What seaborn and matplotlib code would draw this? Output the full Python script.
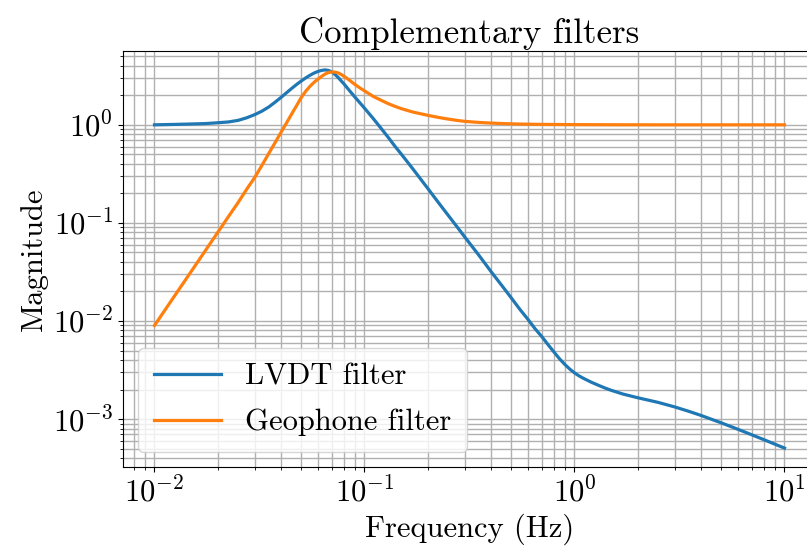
import numpy as np
import pandas as pd
import matplotlib
matplotlib.use("Agg")
import matplotlib.pyplot as plt
import seaborn as sns

# Frequencies (Hz) the curves were read at
freq = [0.01, 0.0125, 0.015, 0.0175, 0.02, 0.0225, 0.025, 0.0275, 0.03, 0.0325,
        0.035, 0.0375, 0.04, 0.0425, 0.045, 0.0475, 0.05, 0.0525, 0.055, 0.0575,
        0.06, 0.0625, 0.065, 0.0675, 0.07, 0.0725, 0.075, 0.0775, 0.08, 0.085,
        0.09, 0.095, 0.1, 0.11, 0.12, 0.13, 0.14, 0.15, 0.17, 0.2,
        0.225, 0.25, 0.275, 0.3, 0.35, 0.4, 0.45, 0.5, 0.55, 0.6,
        0.65, 0.7, 0.75, 0.8, 0.85, 0.9, 0.95, 1.0, 1.05, 1.1,
        1.2, 1.3, 1.4, 1.5, 1.7, 2.0, 2.5, 3.0, 3.5, 4.0,
        5.0, 6.0, 7.0, 8.0, 9.0, 10.0]

# LVDT filter magnitude
lvdt_mag = [1.00, 1.01, 1.02, 1.03, 1.05, 1.07, 1.11, 1.18, 1.27, 1.38,
            1.52, 1.70, 1.90, 2.12, 2.35, 2.58, 2.80, 3.01, 3.20, 3.37,
            3.50, 3.59, 3.63, 3.58, 3.46, 3.25, 3.03, 2.80, 2.60, 2.22,
            1.92, 1.68, 1.48, 1.16, 0.92, 0.74, 0.60, 0.50, 0.355, 0.225,
            0.161, 0.120, 0.092, 0.072, 0.047, 0.032, 0.0231, 0.0172, 0.0131, 0.0104,
            0.0083, 0.0069, 0.0057, 0.0048, 0.0041, 0.0036, 0.00323, 0.00296, 0.00276, 0.00261,
            0.00238, 0.00221, 0.00207, 0.00196, 0.00180, 0.00165, 0.00148, 0.00133, 0.00120, 0.00109,
            0.000915, 0.000787, 0.00069, 0.000615, 0.000555, 0.000506]

# Geophone filter magnitude
geo_mag = [0.0090, 0.0182, 0.0323, 0.0525, 0.080, 0.116, 0.161, 0.221, 0.29, 0.387,
           0.51, 0.657, 0.835, 1.043, 1.29, 1.57, 1.90, 2.20, 2.47, 2.71,
           2.92, 3.12, 3.30, 3.42, 3.46, 3.44, 3.38, 3.26, 3.12, 2.84,
           2.58, 2.38, 2.22, 1.95, 1.78, 1.64, 1.54, 1.46, 1.35, 1.25,
           1.19, 1.145, 1.11, 1.085, 1.058, 1.042, 1.031, 1.023, 1.018, 1.015,
           1.012, 1.01, 1.009, 1.008, 1.007, 1.006, 1.005, 1.005, 1.004, 1.004,
           1.003, 1.003, 1.002, 1.002, 1.001, 1.001, 1.0, 1.0, 1.0, 1.0,
           1.0, 1.0, 1.0, 1.0, 1.0, 1.0]

df = pd.DataFrame({"freq": freq, "lvdt": lvdt_mag, "geo": geo_mag})

plt.rcParams["font.family"] = "serif"
plt.rcParams["font.serif"] = ["cmr10"]
plt.rcParams["mathtext.fontset"] = "cm"
plt.rcParams["axes.formatter.use_mathtext"] = True
plt.rcParams["font.size"] = 22

fig = plt.figure(figsize=(8.07, 5.51), dpi=100)
ax = fig.add_axes([123 / 807, 84 / 551, 693 / 807, 416 / 551])

sns.lineplot(data=df, x="freq", y="lvdt", ax=ax, color="#1f77b4", linewidth=2.3, label="LVDT filter")
sns.lineplot(data=df, x="freq", y="geo", ax=ax, color="#ff7f0e", linewidth=2.3, label="Geophone filter")

ax.set_xscale("log")
ax.set_yscale("log")
ax.grid(True, which="both", color="#b0b0b0", linewidth=1.0)
ax.set_title("Complementary filters", fontsize=25)
ax.set_xlabel("Frequency (Hz)")
ax.set_ylabel("Magnitude")
ax.legend(loc="lower left", fontsize=22, handlelength=2.2, labelspacing=0.6, borderpad=0.5)

fig.savefig("out.png", dpi=100)
